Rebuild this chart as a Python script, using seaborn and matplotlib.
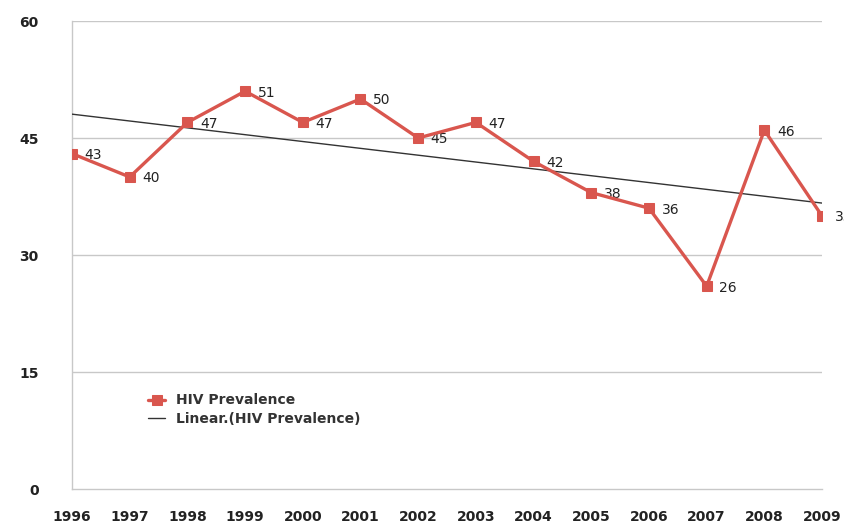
import numpy as np
import pandas as pd
import matplotlib
matplotlib.use("Agg")
import matplotlib.pyplot as plt
import seaborn as sns

years = [1996, 1997, 1998, 1999, 2000, 2001, 2002, 2003, 2004, 2005, 2006, 2007, 2008, 2009]
prevalence = [43, 40, 47, 51, 47, 50, 45, 47, 42, 38, 36, 26, 46, 35]
y_ticks = [0, 15, 30, 45, 60]
series_name = "HIV Prevalence"
trend_name = "Linear.(HIV Prevalence)"

sns.set_style("white")
plt.rcParams['font.family'] = ['DejaVu Sans']

df = pd.DataFrame({"year": years, "value": prevalence})
coef = np.polyfit(df["year"], df["value"], 1)
df["trend"] = np.polyval(coef, df["year"])

fig = plt.figure(figsize=(8.44, 5.29), dpi=100)
ax = fig.add_axes([0.0853, 0.0756, 0.8887, 0.8847])

red = "#d9564e"
sns.lineplot(data=df, x="year", y="trend", ax=ax, color="#333333", lw=1.0,
             label=trend_name, zorder=3)
sns.lineplot(data=df, x="year", y="value", ax=ax, color=red, lw=2.4,
             marker="s", markersize=7, markeredgecolor=red, label=series_name,
             zorder=4)

for x, v in zip(years, prevalence):
    ax.annotate(str(v), (x, v), xytext=(9, -1), textcoords="offset points",
                ha="left", va="center", fontsize=10, color="#222222",
                annotation_clip=False, clip_on=False)

ax.set_xlim(1996, 2009)
ax.set_ylim(0, 60)
ax.set_yticks(y_ticks)
ax.set_xticks(years)
ax.set_xticklabels([str(y) for y in years], fontsize=10, color="#222222",
                   fontweight="bold")
ax.set_yticklabels([str(t) for t in y_ticks], fontsize=10, color="#222222",
                   fontweight="bold")
ax.tick_params(axis="x", length=3, color="#bbbbbb", pad=12)
ax.tick_params(axis="y", length=0, pad=24)
for t in ax.get_yticklabels():
    t.set_ha("right")
for y in [15, 30, 45, 60]:
    ax.axhline(y, color="#c8c8c8", lw=1.0, zorder=1)
ax.set_xlabel("")
ax.set_ylabel("")
for s in ["top", "right"]:
    ax.spines[s].set_visible(False)
for s in ["left", "bottom"]:
    ax.spines[s].set_color("#c8c8c8")
    ax.spines[s].set_linewidth(1.0)

handles, labels = ax.get_legend_handles_labels()
order = [labels.index(series_name), labels.index(trend_name)]
leg = ax.legend([handles[i] for i in order], [labels[i] for i in order],
                loc="center left", bbox_to_anchor=(0.085, 0.17), frameon=False,
                fontsize=10, handlelength=1.2, labelspacing=0.3,
                prop={"weight": "bold", "size": 10})
for t in leg.get_texts():
    t.set_color("#333333")

fig.savefig("out.png", dpi=100)
